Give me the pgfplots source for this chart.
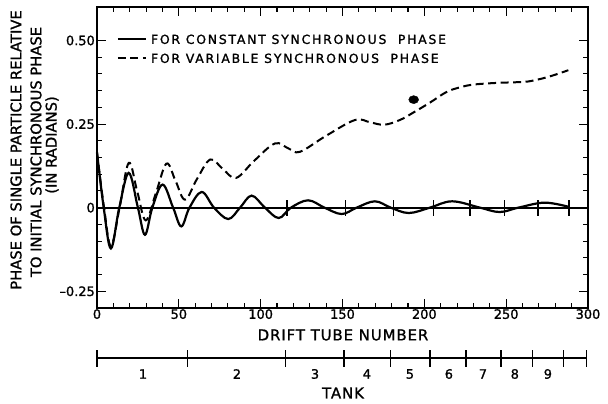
\documentclass[border=0pt]{standalone}
\usepackage{pgfplots}
\pgfplotsset{compat=1.18}
\usepackage{fontspec}
\setmainfont[FakeBold=1.2]{DejaVu Sans}
\newfontfamily\legfont[LetterSpace=14,FakeBold=1.2]{DejaVu Sans}
\newfontfamily\labfont[LetterSpace=6,FakeBold=1.2]{DejaVu Sans}

% constant synchronous phase (solid)
\pgfplotstableread{
x y
0 0.165
4.1 0.0
8.5 -0.122
13.6 0.0
19.4 0.104
25.0 0.0
29.3 -0.081
33.8 0.0
40.1 0.069
46.5 0.0
51.5 -0.056
56.5 0.0
64.0 0.047
71.5 0.0
80.2 -0.034
87.4 0.0
94.5 0.036
102.6 0.0
111.0 -0.031
118.5 0.0
129.0 0.022
139.0 0.0
149.5 -0.019
158.6 0.0
169.8 0.019
179.5 0.0
190.5 -0.016
203.4 0.0
217.0 0.019
234.0 0.0
246.0 -0.013
257.4 0.0
273.5 0.015
288.5 0.002
}\constphase

% variable synchronous phase (dashed)
\pgfplotstableread{
x y
0 0.165
4.3 0.0
8.5 -0.115
13.8 0.0
19.4 0.134
24.6 0.048
29.8 -0.038
36.2 0.047
42.5 0.132
48.0 0.080
53.8 0.024
61.0 0.085
69.2 0.144
77.0 0.115
85.0 0.089
96.0 0.140
108.7 0.192
117.0 0.177
124.0 0.167
140.0 0.215
157.6 0.262
167.0 0.255
175.5 0.248
185.0 0.262
193.5 0.285
203.4 0.314
213.6 0.346
222.0 0.360
230.0 0.368
244.0 0.373
256.0 0.375
263.0 0.377
271.0 0.385
279.0 0.396
288.0 0.411
}\varphase

% tank boundaries marked on the zero line
\pgfplotstableread{
x y
116 0
152 0
181 0
205.5 0
228 0
249 0
269.5 0
288.5 0
}\zeromarks

% tank boundaries along the drift tube scale
\pgfplotstableread{
x y
0 0
55.1 0
115.4 0
150.9 0
179.4 0
203.4 0
225.4 0
246.8 0
265.9 0
284.8 0
298.9 0
}\tanks

\begin{document}
\begin{tikzpicture}
\useasboundingbox (0,0) rectangle (608bp,404bp);
\begin{axis}[
    at={(97bp,96bp)}, anchor=south west,
    scale only axis, width=491bp, height=301bp,
    xmin=0, xmax=300, ymin=-0.30, ymax=0.60,
    clip=false,
    xtick={0,50,...,300},
    xticklabels={0,50,100,150,200,250,300},
    minor x tick num=4,
    ytick={-0.25,0,0.25,0.5},
    yticklabels={\textendash0.25,0,0.25,0.50},
    minor y tick num=4,
    tick pos=both, tick align=inside,
    major tick length=9bp, minor tick length=5bp,
    every tick/.style={black, line width=1.1bp},
    axis line style={line width=1.4bp},
    tick label style={font=\fontsize{13}{13}\selectfont},
    xticklabel style={inner sep=1bp},
    yticklabel style={inner sep=2bp},
    legend style={draw=none, fill=none, inner sep=0pt,
        at={(0.040,0.908)}, anchor=north west,
        row sep=10bp,
        nodes={inner sep=0pt, text height=9bp, text depth=0pt,
               font=\legfont\fontsize{12.5}{12.5}\selectfont}},
    legend cell align=left,
    legend image code/.code={\draw[#1] (0bp,0bp) -- (28bp,0bp);},
    legend style={/tikz/every odd column/.style={column sep=4bp}},
  ]
  \addplot[black, line width=2.2bp, smooth, tension=0.6] table {\constphase};
  \addplot[black, line width=2bp, smooth, tension=0.6, dash pattern=on 8bp off 4.5bp] table {\varphase};
  \legend{FOR CONSTANT SYNCHRONOUS\ \ PHASE, FOR VARIABLE SYNCHRONOUS\ \ PHASE}

  % zero reference line
  \addplot[black, line width=1.8bp] coordinates {(0,0) (300,0)};
  % tank boundary marks on the zero line
  \addplot[black, mark=none, draw=none,
    error bars/.cd, y dir=both, y fixed=0.0235, error mark=none,
    error bar style={black, line width=1.4bp, solid}]
    table {\zeromarks};
  % isolated point
  \addplot[only marks, mark=*, mark size=4bp, mark options={xscale=1.25}]
    coordinates {(193.5,0.323)};
\end{axis}

% tank scale below the main axis
\begin{axis}[
    at={(97bp,36bp)}, anchor=south west,
    scale only axis, width=491bp, height=20bp,
    xmin=0, xmax=300, ymin=-1, ymax=1,
    hide axis, clip=false,
  ]
  \addplot[black, line width=1.3bp] coordinates {(0,0) (298.9,0)};
  \addplot[draw=none, mark=none,
    error bars/.cd, y dir=both, y fixed=0.85, error mark=none,
    error bar style={black, line width=1.2bp}]
    table {\tanks};
  \node[font=\fontsize{13}{13}\selectfont] at (axis cs:28.1,-1.6) {1};
  \node[font=\fontsize{13}{13}\selectfont] at (axis cs:85.5,-1.6) {2};
  \node[font=\fontsize{13}{13}\selectfont] at (axis cs:133.2,-1.6) {3};
  \node[font=\fontsize{13}{13}\selectfont] at (axis cs:164.9,-1.6) {4};
  \node[font=\fontsize{13}{13}\selectfont] at (axis cs:191.2,-1.6) {5};
  \node[font=\fontsize{13}{13}\selectfont] at (axis cs:215.0,-1.6) {6};
  \node[font=\fontsize{13}{13}\selectfont] at (axis cs:235.8,-1.6) {7};
  \node[font=\fontsize{13}{13}\selectfont] at (axis cs:255.3,-1.6) {8};
  \node[font=\fontsize{13}{13}\selectfont] at (axis cs:275.5,-1.6) {9};
\end{axis}

\node[font=\labfont\fontsize{15}{15}\selectfont] at (343bp,69bp) {DRIFT TUBE NUMBER};
\node[font=\labfont\fontsize{15}{15}\selectfont] at (343bp,11bp) {TANK};
\node[rotate=90, font=\fontsize{14.8}{14.8}\selectfont] at (16bp,254bp) {PHASE OF SINGLE PARTICLE RELATIVE};
\node[rotate=90, font=\fontsize{14.8}{14.8}\selectfont] at (36bp,252bp) {TO INITIAL SYNCHRONOUS PHASE};
\node[rotate=90, font=\fontsize{14.8}{14.8}\selectfont] at (52bp,259bp) {(IN RADIANS)};
\end{tikzpicture}
\end{document}
